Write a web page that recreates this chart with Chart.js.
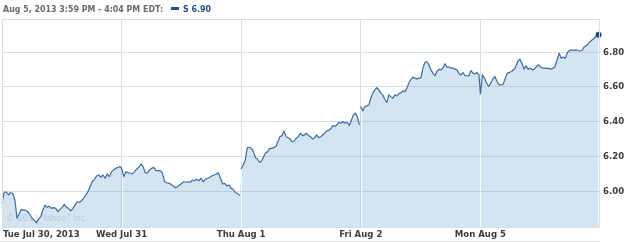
<!DOCTYPE html>
<html><head><meta charset="utf-8">
<script src="https://cdn.jsdelivr.net/npm/chart.js@4/dist/chart.umd.min.js"></script>
<style>
html,body{margin:0;padding:0;background:#fff;}
#wrap{position:relative;width:625px;height:242px;}
#hdr{position:absolute;left:3px;top:3px;font:bold 8.8px "DejaVu Sans Condensed","DejaVu Sans",sans-serif;color:#6a6a6a;white-space:nowrap;line-height:13px;}
#hdr .sw{display:inline-block;width:8px;height:3px;background:#1f4f86;margin:0 4px 2px 8px;vertical-align:middle;}
#hdr .s{color:#1f4f86;}
canvas{position:absolute;left:0;top:0;}
</style></head>
<body><div id="wrap">
<canvas id="c" width="625" height="242"></canvas>
<div id="hdr">Aug 5, 2013 3:59 PM - 4:04 PM EDT:<span class="sw"></span><span class="s">S 6.90</span></div>
</div>
<script>
const dayLabels = ["Tue Jul 30, 2013", "Wed Jul 31", "Thu Aug 1", "Fri Aug 2", "Mon Aug 5"];
const yTicks = [6.00, 6.20, 6.40, 6.60, 6.80];
const tue = [5.931,5.994,5.996,5.979,5.992,5.988,5.950,5.845,5.873,5.896,5.892,5.892,5.883,5.864,5.845,5.835,5.819,5.839,5.854,5.892,5.921,5.908,5.915,5.902,5.906,5.902,5.883,5.896,5.908,5.925,5.908,5.902,5.888,5.902,5.921,5.940,5.937,5.946,5.960,5.979,5.998,6.026,6.055,6.069,6.088,6.094,6.081,6.094,6.075,6.100,6.084,6.113,6.123,6.132,6.138,6.142];
const wed = [6.132,6.084,6.113,6.107,6.104,6.100,6.113,6.127,6.138,6.157,6.142,6.107,6.104,6.123,6.132,6.138,6.119,6.119,6.119,6.104,6.055,6.049,6.046,6.040,6.031,6.021,6.026,6.036,6.046,6.055,6.052,6.055,6.052,6.065,6.061,6.069,6.061,6.075,6.055,6.069,6.075,6.081,6.088,6.094,6.098,6.107,6.075,6.042,6.046,6.031,6.036,6.017,6.012,5.992,5.988,5.975];
const thu = [6.128,6.151,6.180,6.251,6.253,6.247,6.228,6.193,6.186,6.167,6.174,6.199,6.222,6.228,6.247,6.247,6.251,6.257,6.285,6.314,6.320,6.347,6.314,6.308,6.301,6.285,6.289,6.305,6.314,6.334,6.320,6.324,6.334,6.320,6.314,6.301,6.308,6.324,6.308,6.314,6.324,6.334,6.347,6.351,6.359,6.378,6.372,6.382,6.397,6.391,6.401,6.391,6.397,6.378,6.405,6.439,6.449,6.429,6.382];
const fri = [6.487,6.462,6.487,6.491,6.497,6.535,6.564,6.583,6.596,6.583,6.564,6.554,6.529,6.510,6.554,6.544,6.535,6.554,6.548,6.560,6.567,6.577,6.573,6.593,6.622,6.641,6.656,6.650,6.646,6.650,6.650,6.708,6.740,6.746,6.727,6.698,6.679,6.664,6.688,6.702,6.698,6.708,6.733,6.714,6.714,6.708,6.708,6.702,6.698,6.675,6.669,6.683,6.664,6.664,6.664,6.694,6.679,6.675,6.683,6.669];
const mon = [6.560,6.669,6.650,6.622,6.602,6.622,6.645,6.660,6.631,6.612,6.612,6.616,6.650,6.679,6.683,6.688,6.698,6.714,6.746,6.760,6.737,6.702,6.721,6.702,6.708,6.698,6.702,6.717,6.727,6.714,6.708,6.708,6.706,6.706,6.702,6.706,6.717,6.756,6.794,6.765,6.771,6.765,6.798,6.809,6.813,6.809,6.813,6.809,6.807,6.809,6.829,6.836,6.848,6.861,6.871,6.881,6.894,6.900];
const days = [tue, wed, thu, fri, mon];
const brokenDays = [2, 3]; // session opens not joined to previous close

const points = [];
const dayStart = [];
days.forEach((arr, d) => {
  dayStart.push(points.length);
  arr.forEach((v, j) => points.push({x: d + j / (arr.length - 1) * 0.988, y: v}));
});
const breakIdx = brokenDays.map(d => dayStart[d]);
const lastIdx = points.length - 1;

const LINE = '#3b6ca1';
const GRID = 'rgb(216,223,231)';
const LABEL = '#3d3d3d';
const FONT = 'bold 9.5px "DejaVu Sans Condensed","DejaVu Sans",sans-serif';

const deco = {
  id: 'deco',
  afterDatasetsDraw(chart) {
    const {ctx, chartArea: a, scales: {x}} = chart;
    const meta = chart.getDatasetMeta(0);
    const pts = meta.data;
    // white day separators inside the filled area
    ctx.save();
    ctx.beginPath();
    ctx.moveTo(pts[0].x, pts[0].y);
    for (let i = 1; i < pts.length; i++) ctx.lineTo(pts[i].x, pts[i].y);
    ctx.lineTo(pts[lastIdx].x, a.bottom);
    ctx.lineTo(pts[0].x, a.bottom);
    ctx.closePath();
    ctx.clip();
    ctx.strokeStyle = 'rgba(255,255,255,0.9)';
    ctx.lineWidth = 1;
    for (let d = 1; d < 5; d++) {
      const px = Math.round(x.getPixelForValue(d)) + 0.5;
      ctx.beginPath(); ctx.moveTo(px, a.top); ctx.lineTo(px, a.bottom); ctx.stroke();
    }
    ctx.restore();
    // price line on top
    ctx.save();
    ctx.strokeStyle = LINE; ctx.lineWidth = 1.2; ctx.lineJoin = 'round';
    ctx.beginPath();
    for (let i = 0; i < pts.length; i++) {
      if (i === 0 || breakIdx.includes(i)) ctx.moveTo(pts[i].x, pts[i].y);
      else ctx.lineTo(pts[i].x, pts[i].y);
    }
    ctx.stroke();
    ctx.fillStyle = '#1d4c82';
    ctx.beginPath(); ctx.arc(pts[lastIdx].x, pts[lastIdx].y, 3, 0, Math.PI * 2); ctx.fill();
    ctx.restore();
    // watermark
    ctx.save();
    ctx.font = '9.5px "DejaVu Sans Condensed","DejaVu Sans",sans-serif';
    ctx.fillStyle = 'rgba(150,162,175,0.4)';
    ctx.textBaseline = 'middle';
    ctx.fillText('\u00A9 2013 Yahoo! Inc.', a.left + 4, a.bottom - 8);
    ctx.restore();
  },
  afterDraw(chart) {
    const {ctx, chartArea: a, scales: {x}} = chart;
    ctx.save();
    ctx.strokeStyle = GRID; ctx.lineWidth = 1;
    ctx.strokeRect(a.left + 0.5, a.top + 0.5, a.right - a.left - 1, a.bottom - a.top);
    ctx.strokeStyle = '#dedede';
    ctx.beginPath(); ctx.moveTo(0, 241.5); ctx.lineTo(a.right, 241.5); ctx.stroke();
    ctx.font = FONT; ctx.fillStyle = LABEL; ctx.textBaseline = 'middle';
    dayLabels.forEach((t, d) => {
      const px = x.getPixelForValue(d);
      if (d === 0) { ctx.textAlign = 'left'; ctx.fillText(t, px + 1, 234.5); }
      else { ctx.textAlign = 'center'; ctx.fillText(t, px, 234.5); }
    });
    ctx.restore();
  }
};

new Chart(document.getElementById('c'), {
  type: 'line',
  data: {datasets: [{
    data: points,
    borderColor: 'rgba(0,0,0,0)',
    borderWidth: 0,
    backgroundColor: 'rgba(112,166,208,0.3)',
    fill: 'start',
    pointRadius: 0,
    tension: 0
  }]},
  options: {
    responsive: false, animation: false,
    layout: {padding: {top: 19, left: 2, right: 0, bottom: 0}},
    plugins: {legend: {display: false}, tooltip: {enabled: false}},
    scales: {
      x: {
        type: 'linear', min: 0, max: 5,
        afterBuildTicks: s => { s.ticks = [0, 1, 2, 3, 4].map(v => ({value: v})); },
        afterFit: s => { s.height = 15; s.paddingLeft = 0; s.paddingRight = 0; },
        ticks: {display: false},
        grid: {color: GRID, drawTicks: false},
        border: {display: false}
      },
      y: {
        position: 'right', min: 5.795, max: 6.99,
        afterBuildTicks: s => { s.ticks = yTicks.map(v => ({value: v})); },
        afterFit: s => { s.width = 25; s.paddingTop = 0; s.paddingBottom = 0; },
        ticks: {padding: 3, color: LABEL, font: {family: '"DejaVu Sans Condensed","DejaVu Sans",sans-serif', size: 9.5, weight: 'bold'}, callback: v => v.toFixed(2)},
        grid: {color: GRID, drawTicks: false},
        border: {display: false}
      }
    }
  },
  plugins: [deco]
});
</script>
</body></html>
